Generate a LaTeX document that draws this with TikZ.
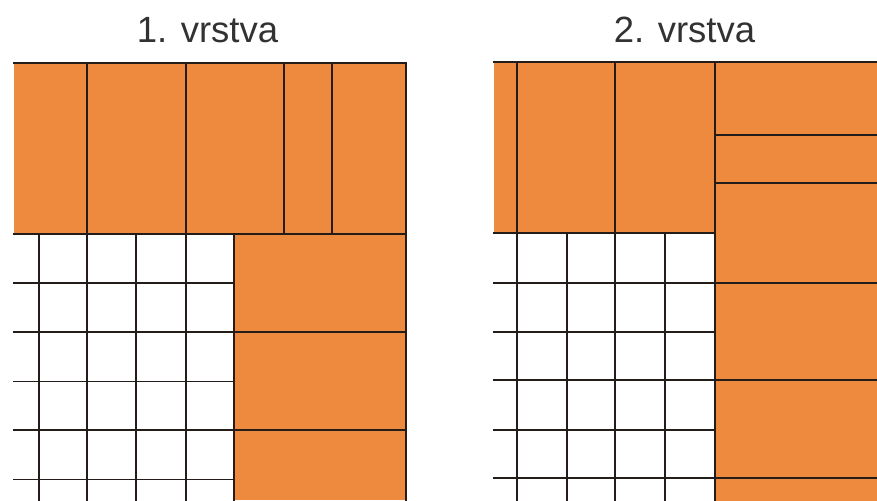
\documentclass[tikz,border=0pt]{standalone}
\usepackage{fontspec}
\setmainfont{Liberation Sans}
\definecolor{tileorange}{RGB}{238,138,62}
\definecolor{linedark}{RGB}{35,28,24}
\definecolor{titlegray}{RGB}{50,50,50}
\tikzset{
  orangefill/.style={fill=tileorange, draw=none},
  gridline/.style={draw=linedark, line width=1.8pt, line cap=rect},
  titletext/.style={text=titlegray, font=\fontsize{36.5}{40}\selectfont, anchor=base, inner sep=0pt}
}
\begin{document}
\begin{tikzpicture}[x=1pt, y=-1pt]
\useasboundingbox (0,0) rectangle (877,500);
\fill[white] (0,0) rectangle (877,500);
\begin{scope}
\clip (0,0) rectangle (877,500);
% ---------- panel 1 ----------
\node[titletext] (t1) at (207.5,43) {1. vrstva};
\fill[orangefill] (14,63) rectangle (405.7,234);
\fill[orangefill] (234,234) rectangle (405.7,500);
\draw[gridline] (14,63) -- (405.7,63);
\draw[gridline] (405.7,63) -- (405.7,500);
\draw[gridline] (14,234) -- (405.7,234);
\foreach \x in {86.7,185.7,283.7,331.7} \draw[gridline] (\x,63) -- (\x,234);
\foreach \x in {38.7,86.7,136.3,185.7,234} \draw[gridline] (\x,234) -- (\x,500);
\foreach \y in {282.7,332.3,381.5,430.3,479.5} \draw[gridline] (14,\y) -- (234,\y);
\foreach \y in {332.3,430.3} \draw[gridline] (234,\y) -- (405.7,\y);
% ---------- panel 2 ----------
\node[titletext] (t2) at (684.5,43) {2. vrstva};
\fill[orangefill] (494,62.3) rectangle (714.7,233);
\fill[orangefill] (714.7,62.3) rectangle (880,505);
\draw[gridline] (494,62.3) -- (880,62.3);
\draw[gridline] (494,233) -- (714.7,233);
\foreach \x in {516.7,615.3} \draw[gridline] (\x,62.3) -- (\x,233);
\draw[gridline] (714.7,62.3) -- (714.7,505);
\foreach \x in {517.3,567.3,615.3,665} \draw[gridline] (\x,233) -- (\x,505);
\foreach \y in {282.7,332.3,380.3,430.3,478.3} \draw[gridline] (494,\y) -- (714.7,\y);
\foreach \y in {135.3,183.3,282.7,380.3,478.3} \draw[gridline] (714.7,\y) -- (880,\y);
\end{scope}
\end{tikzpicture}
\end{document}
